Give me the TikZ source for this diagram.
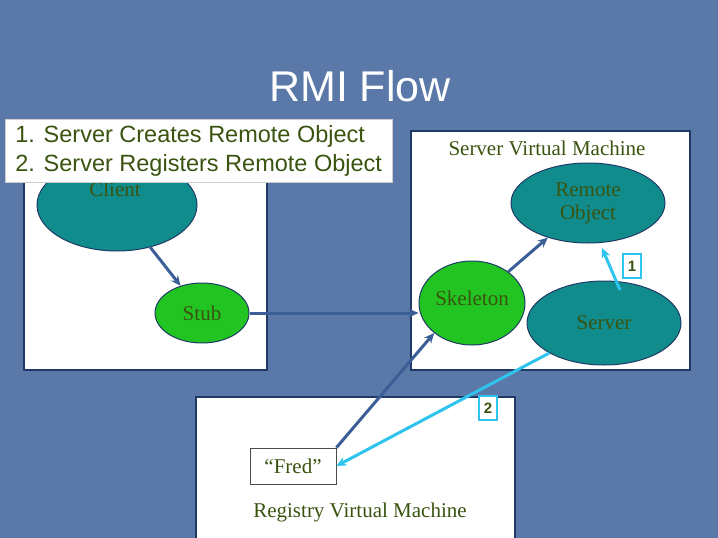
\documentclass[tikz,border=0pt]{standalone}
\usepackage{fontspec}
\setmainfont{Liberation Serif}
\newfontfamily\sansf{Liberation Sans}
\usetikzlibrary{shapes.geometric,arrows.meta}
\definecolor{bg}{HTML}{5A78A8}
\definecolor{frame}{HTML}{1F3A66}
\definecolor{txt}{HTML}{3A5410}
\definecolor{teal}{HTML}{108C8C}
\definecolor{grn}{HTML}{22C422}
\definecolor{arr}{HTML}{3C5E96}
\definecolor{cy}{HTML}{2EC4EE}
\tikzset{
 box/.style={draw=frame,line width=2.5pt,fill=white},
 ell/.style={ellipse,draw=frame,line width=1pt,inner sep=0pt},
 lbl/.style={text=txt,font=\fontsize{21}{23}\selectfont},
 darr/.style={draw=arr,line width=3pt,-{Stealth[length=10pt,width=9pt]}},
 carr/.style={draw=cy,line width=3pt,-{Stealth[length=10pt,width=9pt]}},
 num/.style={draw=cy,line width=2.5pt,fill=white,text=txt,font=\sansf\bfseries\fontsize{15}{16}\selectfont,minimum width=18pt,minimum height=24pt,inner sep=1pt}
}
\begin{document}
\begin{tikzpicture}[x=1pt,y=-1pt]
\fill[bg] (0,0) rectangle (718,538);
\useasboundingbox (0,0) rectangle (718,538);
\node[text=white,font=\sansf\fontsize{43}{45}\selectfont] (title) at (360,86) {RMI Flow};
\draw[box] (24,140) rectangle (267,370);
\draw[box] (411,131) rectangle (690,370);
\draw[box] (196,397) rectangle (515,545);
\node[ell,fill=teal,minimum width=160pt,minimum height=92pt] (client) at (117,205) {};
\node[lbl] (clientt) at (115,189) {Client};
\node[ell,fill=grn,minimum width=94pt,minimum height=60pt,lbl] (stub) at (202,313) {Stub};
\node[ell,fill=grn,minimum width=106pt,minimum height=84pt,lbl,text depth=0pt] (skel) at (472,303) {\raisebox{10pt}{Skeleton}};
\node[ell,fill=teal,minimum width=154pt,minimum height=80pt,lbl,align=center] (remote) at (588,203) {Remote\\Object};
\node[ell,fill=teal,minimum width=154pt,minimum height=84pt,lbl] (server) at (604,323) {Server};
\node[lbl] (svm) at (547,148) {Server Virtual Machine};
\node[draw=black!70,line width=0.8pt,fill=white,lbl,minimum width=86pt,minimum height=36pt] (fred) at (293,466) {“Fred”};
\node[lbl] (rvm) at (360,512) {Registry Virtual Machine};
\node[fill=white,draw=black!20,anchor=north west,text=txt,font=\sansf\fontsize{23.5}{29}\selectfont,minimum height=63pt,minimum width=387pt,inner sep=2pt] (steps) at (5,119) {\begin{tabular}{@{}l@{}}1. Server Creates Remote Object\\2. Server Registers Remote Object\end{tabular}};
\node[num] (n1) at (632,266) {1};
\node[num] (n2) at (488,408) {2};
\draw[darr] (client) -- (stub);
\draw[darr] (stub.east) -- (stub.east -| skel.west);
\draw[darr] (skel) -- (remote);
\coordinate (s1) at (620,290);
\draw[carr] (s1) -- (602,248);
\draw[darr] (fred.north east) -- (skel.south west);
\draw[carr] (server.south west) -- (fred.east);
\end{tikzpicture}
\end{document}
